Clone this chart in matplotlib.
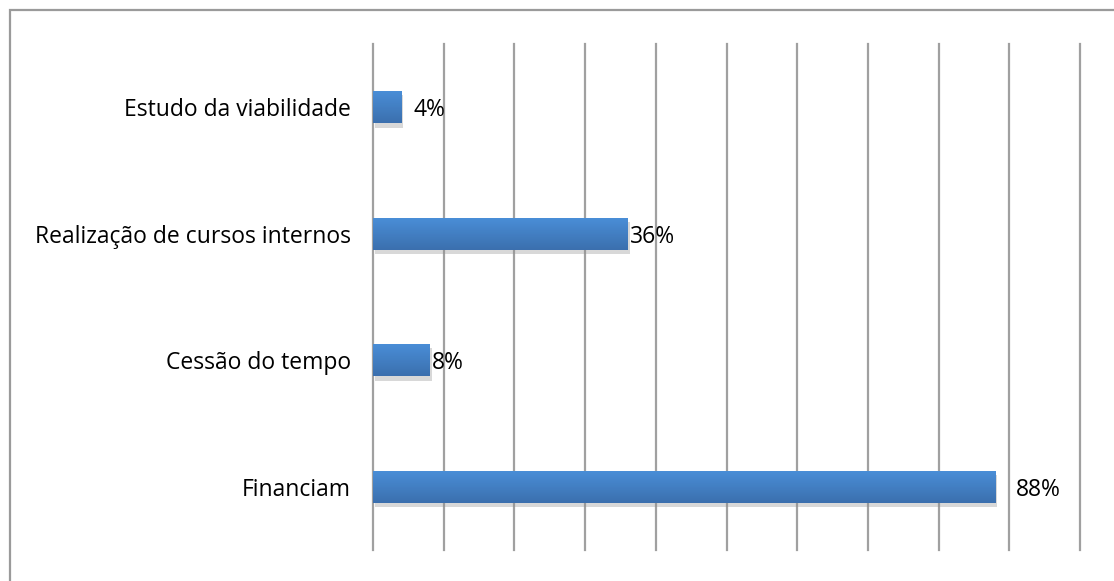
import matplotlib
matplotlib.use("Agg")
import matplotlib.pyplot as plt
import matplotlib.patheffects as pe
import numpy as np
from matplotlib.patches import Rectangle
from matplotlib.colors import LinearSegmentedColormap

categories = ["Financiam", "Cessão do tempo", "Realização de cursos internos", "Estudo da viabilidade"]
values = [88, 8, 36, 4]
value_labels = ["88%", "8%", "36%", "4%"]
label_offsets_pt = [15, 2, 2, 9]

plt.rcParams['font.family'] = ['Open Sans', 'DejaVu Sans']

fig = plt.figure(figsize=(11.14, 5.81), dpi=100)
# outer border
fig.patches.append(Rectangle((10/1114, -0.1), 1.2, (581-10)/581 + 0.1, transform=fig.transFigure,
                             fill=False, edgecolor='#9a9a9a', linewidth=1.6))

ax = fig.add_axes([373/1114, 1 - 550/581, (1080-373)/1114, (550-44)/581])
ax.set_xlim(0, 100)
ax.set_ylim(-0.5, len(categories) - 0.5)

for x in np.arange(0, 101, 10):
    ax.axvline(x, color='#a0a0a0', linewidth=1.6, zorder=1, clip_on=False)

bars = ax.barh(range(len(categories)), values, height=0.255, color='#4583c8', zorder=3,
               path_effects=[pe.SimplePatchShadow(offset=(1.5, -3), shadow_rgbFace='#909090', alpha=0.35),
                             pe.Normal()])

grad = np.linspace(0, 1, 64).reshape(-1, 1)
cmap = LinearSegmentedColormap.from_list('g', ['#3b6fae', '#4a8fd8'])
for b in bars:
    x0, y0, w, h = b.get_x(), b.get_y(), b.get_width(), b.get_height()
    im = ax.imshow(grad, extent=(x0, x0 + w, y0, y0 + h), origin='lower', cmap=cmap,
                   aspect='auto', zorder=4, interpolation='bicubic')
    im.set_clip_path(b)

ax.set_xlim(0, 100)
ax.set_ylim(-0.5, len(categories) - 0.5)

for b, lab, off in zip(bars, value_labels, label_offsets_pt):
    ax.annotate(lab, (b.get_width(), b.get_y() + b.get_height() / 2), xytext=(off, -2),
                textcoords='offset points', va='center', ha='left', fontsize=16.5, color='black', zorder=5)

ax.set_yticks(range(len(categories)))
ax.set_yticklabels(categories, fontsize=16.5, va='center_baseline')
ax.tick_params(axis='y', length=0, pad=16)
ax.set_xticks([])
for s in ax.spines.values():
    s.set_visible(False)
ax.patch.set_visible(False)

fig.savefig("out.png", dpi=100)
